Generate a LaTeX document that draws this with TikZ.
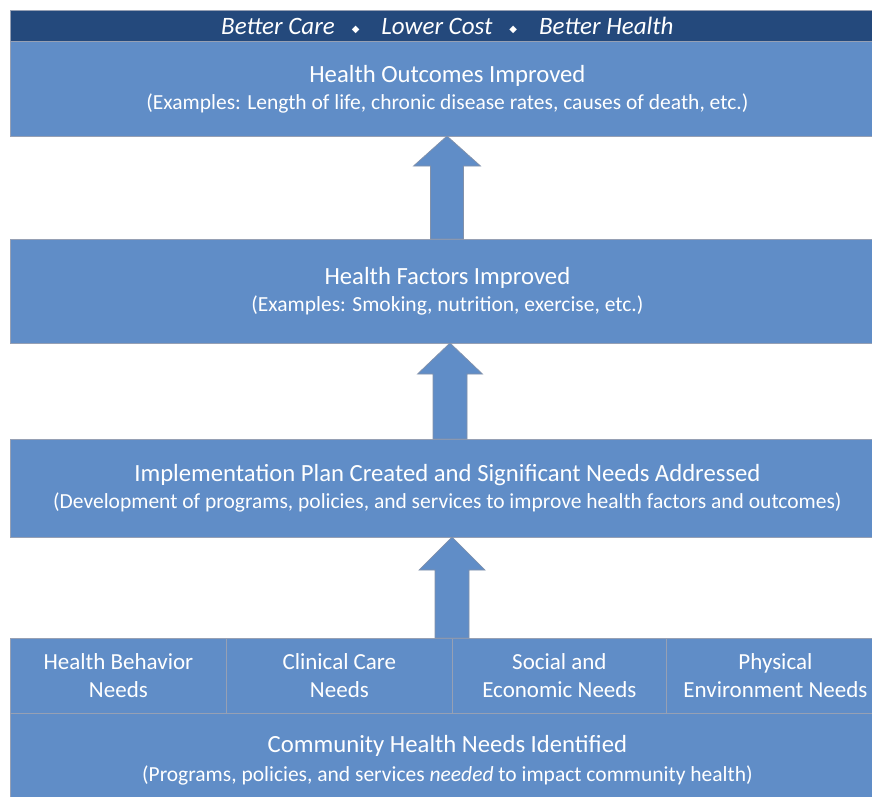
\documentclass[tikz,border=0pt]{standalone}
\usepackage{fontspec}
\setmainfont{Carlito}
\newfontfamily\djv{DejaVu Sans}
\usetikzlibrary{calc}
\definecolor{boxblue}{RGB}{96,141,199}
\definecolor{bandblue}{RGB}{36,73,124}
\definecolor{edgegrey}{RGB}{150,160,180}
\definecolor{arrowedge}{RGB}{130,145,170}
\newcommand\blockup[5]{% tip coord, target node, head length, head half width, shaft half width
  \draw[blockarrow] (#1) -- ($(#1)+(#4,#3)$) -- ($(#1)+(#5,#3)$) -- ($(#1 |- #2.north)+(#5,0)$)
    -- ($(#1 |- #2.north)+(-#5,0)$) -- ($(#1)+(-#5,#3)$) -- ($(#1)+(-#4,#3)$) -- cycle;}
\newcommand\bandsep{\hspace{17pt}{\djv\fontsize{10}{10}\selectfont\raisebox{2pt}{◆}}\hspace{22pt}}
\begin{document}
\begin{tikzpicture}[x=1pt,y=-1pt,
  box/.style={draw=edgegrey, fill=boxblue, line width=0.8pt, text=white, inner sep=0pt,
    anchor=north west, align=center, font=\fontsize{24.7}{28}\selectfont},
  cell/.style={box, minimum height=75pt, font=\fontsize{23}{28}\selectfont},
  band/.style={box, fill=bandblue, font=\fontsize{25}{28}\selectfont\itshape},
  blockarrow/.style={fill=boxblue, draw=arrowedge, line width=0.7pt}]
\clip (0,0) rectangle (872,797);
\fill[white] (0,0) rectangle (872,797);
% boxes
\node[band, minimum width=874pt, minimum height=31pt] (band) at (10,10)
  {Better Care\bandsep Lower Cost\bandsep Better Health};
\node[box, minimum width=874pt, minimum height=95pt] (b1) at (10,41)
  {Health Outcomes Improved\\[-1pt]{\fontsize{21.5}{28}\selectfont (Examples: Length of life, chronic disease rates, causes of death, etc.)}};
\node[box, minimum width=874pt, minimum height=104pt] (b2) at (10,239)
  {Health Factors Improved\\[-1pt]{\fontsize{21.5}{28}\selectfont (Examples: Smoking, nutrition, exercise, etc.)}};
\node[box, minimum width=874pt, minimum height=98pt] (b3) at (10,439)
  {Implementation Plan Created and Significant Needs Addressed\\[-1pt]{\fontsize{21.5}{28}\selectfont (Development of programs, policies, and services to improve health factors and outcomes)}};
\node[cell, minimum width=216pt] (c1) at (10,638) {Health Behavior\\Needs};
\node[cell, minimum width=226pt] (c2) at (226,638) {Clinical Care\\Needs};
\node[cell, minimum width=214pt] (c3) at (452,638) {Social and\\Economic Needs};
\node[cell, minimum width=218pt] (c4) at (666,638) {Physical\\Environment Needs};
\node[box, minimum width=874pt, minimum height=93pt] (b4) at (10,713)
  {Community Health Needs Identified\\[1pt]{\fontsize{21.5}{28}\selectfont (Programs, policies, and services \textit{needed} to impact community health)}};
% arrows
\coordinate (t1) at (447,136);
\coordinate (t2) at (450,343);
\coordinate (t3) at (452,537);
\blockup{t1}{b2}{30}{33.5}{16.5}
\blockup{t2}{b3}{31}{32.5}{17}
\blockup{t3}{c3}{33}{33}{17}
\end{tikzpicture}
\end{document}
